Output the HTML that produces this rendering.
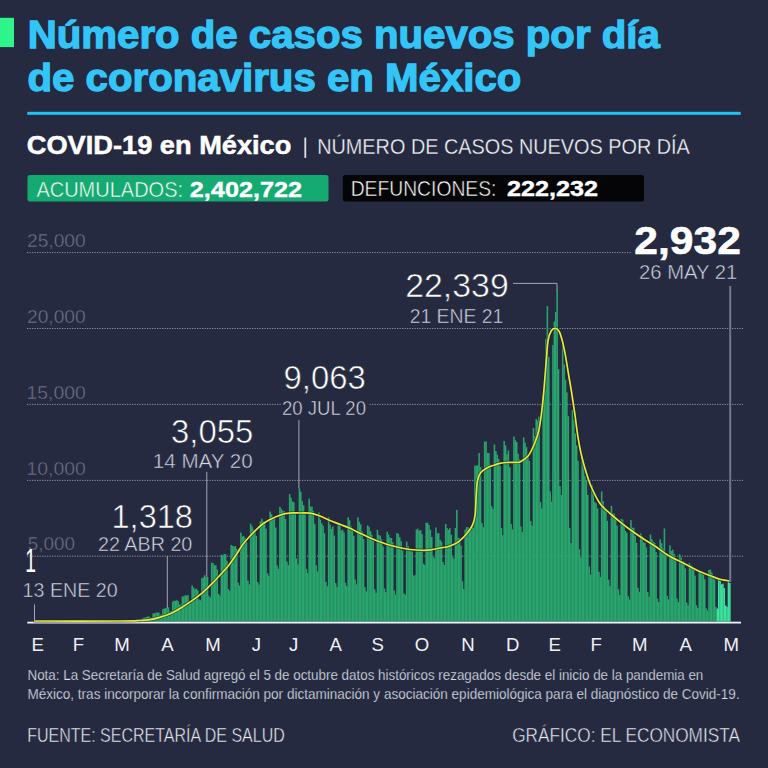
<!DOCTYPE html>
<html><head><meta charset="utf-8">
<style>
html,body{margin:0;padding:0;background:#262a40;}
body{width:768px;height:768px;overflow:hidden;}
svg{display:block;}
.b{font-family:"Liberation Sans",Arial,sans-serif;font-weight:700;}
.l{font-family:"Liberation Sans",Arial,sans-serif;font-weight:400;}
</style></head>
<body>
<svg width="768" height="768" viewBox="0 0 768 768">
<rect x="0" y="0" width="768" height="768" fill="#262a40"/>
<!-- header -->
<rect x="0" y="17.8" width="14" height="29.3" fill="#2ff48a"/>
<text class="b" x="27.81" y="47.60" font-size="39.5" textLength="631.95" lengthAdjust="spacingAndGlyphs" fill="#33c5f8" stroke="#33c5f8" stroke-width="1.3">Número de casos nuevos por día</text>
<text class="b" x="27.52" y="91.30" font-size="39.5" textLength="493.89" lengthAdjust="spacingAndGlyphs" fill="#33c5f8" stroke="#33c5f8" stroke-width="1.3">de coronavirus en México</text>
<text class="b" x="26.78" y="154.40" font-size="25.5" textLength="264.62" lengthAdjust="spacingAndGlyphs" fill="#ffffff" stroke="#ffffff" stroke-width="0.5">COVID-19 en México</text>
<text class="l" x="317.18" y="154.00" font-size="22.1" textLength="372.67" lengthAdjust="spacingAndGlyphs" fill="#f0f1f6" stroke="#262a40" stroke-width="0.3">NÚMERO DE CASOS NUEVOS POR DÍA</text>
<rect x="27.3" y="111.8" width="713.4" height="3" fill="#1ec4f2"/>
<rect x="304.4" y="137.6" width="1.8" height="20.3" fill="#dfe1ea"/>
<rect x="27.5" y="175" width="301" height="26.5" rx="2.5" fill="#14aa72"/>
<rect x="342.8" y="175" width="301.2" height="26.5" rx="2.5" fill="#050507"/>
<text class="l" x="36.40" y="196.60" font-size="21.8" textLength="146.63" lengthAdjust="spacingAndGlyphs" fill="#ffffff" stroke="#14aa72" stroke-width="0.5">ACUMULADOS:</text>
<text class="b" x="189.81" y="196.60" font-size="22.5" textLength="112.28" lengthAdjust="spacingAndGlyphs" fill="#ffffff" stroke="#ffffff" stroke-width="0.4">2,402,722</text>
<text class="l" x="350.70" y="196.20" font-size="21.8" textLength="145.71" lengthAdjust="spacingAndGlyphs" fill="#ffffff" stroke="#050507" stroke-width="0.5">DEFUNCIONES:</text>
<text class="b" x="506.91" y="196.40" font-size="22.5" textLength="91.22" lengthAdjust="spacingAndGlyphs" fill="#ffffff" stroke="#ffffff" stroke-width="0.4">222,232</text>

<!-- gridlines -->
<g stroke="#8d8fa3" stroke-width="1" stroke-dasharray="1.25 1.25" fill="none">
<line x1="27" y1="252.6" x2="632" y2="252.6"/>
<line x1="27" y1="328.5" x2="743" y2="328.5"/>
<line x1="27" y1="404.4" x2="280.7" y2="404.4"/>
<line x1="369.6" y1="404.4" x2="743" y2="404.4"/>
<line x1="27" y1="480.4" x2="743" y2="480.4"/>
<line x1="27" y1="556.2" x2="743" y2="556.2"/>
</g>
<text class="l" x="26.99" y="246.70" font-size="18.9" textLength="58.73" lengthAdjust="spacingAndGlyphs" fill="#6e7189" stroke="#262a40" stroke-width="0.4">25,000</text>
<text class="l" x="26.99" y="322.60" font-size="18.9" textLength="58.73" lengthAdjust="spacingAndGlyphs" fill="#6e7189" stroke="#262a40" stroke-width="0.4">20,000</text>
<text class="l" x="26.46" y="398.50" font-size="18.9" textLength="59.26" lengthAdjust="spacingAndGlyphs" fill="#6e7189" stroke="#262a40" stroke-width="0.4">15,000</text>
<text class="l" x="26.46" y="474.50" font-size="18.9" textLength="59.26" lengthAdjust="spacingAndGlyphs" fill="#6e7189" stroke="#262a40" stroke-width="0.4">10,000</text>
<text class="l" x="27.80" y="550.20" font-size="18.9" textLength="47.30" lengthAdjust="spacingAndGlyphs" fill="#6e7189" stroke="#262a40" stroke-width="0.4">5,000</text>

<!-- bars -->
<g>
<rect x="123.13" y="621.20" width="1.55" height="0.30" fill="#29a66d"/>
<rect x="124.53" y="621.19" width="1.55" height="0.31" fill="#29a66d"/>
<rect x="125.92" y="621.06" width="1.55" height="0.44" fill="#29a66d"/>
<rect x="127.31" y="620.95" width="1.55" height="0.55" fill="#29a66d"/>
<rect x="128.70" y="620.88" width="1.55" height="0.62" fill="#29a66d"/>
<rect x="131.49" y="621.14" width="1.55" height="0.36" fill="#29a66d"/>
<rect x="132.88" y="620.18" width="1.55" height="1.32" fill="#29a66d"/>
<rect x="134.28" y="620.03" width="1.55" height="1.47" fill="#29a66d"/>
<rect x="135.67" y="619.80" width="1.55" height="1.70" fill="#29a66d"/>
<rect x="137.06" y="619.57" width="1.55" height="1.93" fill="#29a66d"/>
<rect x="138.45" y="619.55" width="1.55" height="1.95" fill="#29a66d"/>
<rect x="139.85" y="619.66" width="1.55" height="1.84" fill="#29a66d"/>
<rect x="141.24" y="619.47" width="1.55" height="2.03" fill="#29a66d"/>
<rect x="142.63" y="617.84" width="1.55" height="3.66" fill="#29a66d"/>
<rect x="144.03" y="617.61" width="1.55" height="3.89" fill="#29a66d"/>
<rect x="145.42" y="617.07" width="1.55" height="4.43" fill="#29a66d"/>
<rect x="146.81" y="616.58" width="1.55" height="4.92" fill="#29a66d"/>
<rect x="148.21" y="616.40" width="1.55" height="5.10" fill="#29a66d"/>
<rect x="149.60" y="617.86" width="1.55" height="3.64" fill="#29a66d"/>
<rect x="150.99" y="617.64" width="1.55" height="3.86" fill="#29a66d"/>
<rect x="152.38" y="613.48" width="1.55" height="8.02" fill="#29a66d"/>
<rect x="153.78" y="613.31" width="1.55" height="8.19" fill="#29a66d"/>
<rect x="155.17" y="612.73" width="1.55" height="8.77" fill="#29a66d"/>
<rect x="156.56" y="612.47" width="1.55" height="9.03" fill="#29a66d"/>
<rect x="157.96" y="612.51" width="1.55" height="8.99" fill="#29a66d"/>
<rect x="159.35" y="614.68" width="1.55" height="6.82" fill="#29a66d"/>
<rect x="160.74" y="614.52" width="1.55" height="6.98" fill="#29a66d"/>
<rect x="162.14" y="609.07" width="1.55" height="12.43" fill="#29a66d"/>
<rect x="163.53" y="608.49" width="1.55" height="13.01" fill="#29a66d"/>
<rect x="164.92" y="608.06" width="1.55" height="13.44" fill="#29a66d"/>
<rect x="166.31" y="607.74" width="1.55" height="13.76" fill="#29a66d"/>
<rect x="167.71" y="607.36" width="1.55" height="14.14" fill="#29a66d"/>
<rect x="169.10" y="611.50" width="1.55" height="10.00" fill="#29a66d"/>
<rect x="170.49" y="611.00" width="1.55" height="10.50" fill="#29a66d"/>
<rect x="171.89" y="601.60" width="1.55" height="19.90" fill="#29a66d"/>
<rect x="173.28" y="600.68" width="1.55" height="20.82" fill="#29a66d"/>
<rect x="174.67" y="600.72" width="1.55" height="20.78" fill="#29a66d"/>
<rect x="176.07" y="600.23" width="1.55" height="21.27" fill="#29a66d"/>
<rect x="177.46" y="601.24" width="1.55" height="20.26" fill="#29a66d"/>
<rect x="178.85" y="604.68" width="1.55" height="16.82" fill="#29a66d"/>
<rect x="180.25" y="604.73" width="1.55" height="16.77" fill="#29a66d"/>
<rect x="181.64" y="596.34" width="1.55" height="25.16" fill="#29a66d"/>
<rect x="183.03" y="596.39" width="1.55" height="25.11" fill="#29a66d"/>
<rect x="184.42" y="595.21" width="1.55" height="26.29" fill="#29a66d"/>
<rect x="185.82" y="595.58" width="1.55" height="25.92" fill="#29a66d"/>
<rect x="187.21" y="594.96" width="1.55" height="26.54" fill="#29a66d"/>
<rect x="188.60" y="601.60" width="1.55" height="19.90" fill="#29a66d"/>
<rect x="190.00" y="602.20" width="1.55" height="19.30" fill="#29a66d"/>
<rect x="191.39" y="585.46" width="1.55" height="36.04" fill="#29a66d"/>
<rect x="192.78" y="587.56" width="1.55" height="33.94" fill="#29a66d"/>
<rect x="194.17" y="589.27" width="1.55" height="32.23" fill="#29a66d"/>
<rect x="195.57" y="588.54" width="1.55" height="32.96" fill="#29a66d"/>
<rect x="196.96" y="590.34" width="1.55" height="31.16" fill="#29a66d"/>
<rect x="198.35" y="599.59" width="1.55" height="21.91" fill="#29a66d"/>
<rect x="199.75" y="600.26" width="1.55" height="21.24" fill="#29a66d"/>
<rect x="201.14" y="578.22" width="1.55" height="43.28" fill="#29a66d"/>
<rect x="202.53" y="577.40" width="1.55" height="44.10" fill="#29a66d"/>
<rect x="203.93" y="575.20" width="1.55" height="46.30" fill="#29a66d"/>
<rect x="205.32" y="577.16" width="1.55" height="44.34" fill="#29a66d"/>
<rect x="206.71" y="576.70" width="1.55" height="44.80" fill="#29a66d"/>
<rect x="208.10" y="595.92" width="1.55" height="25.58" fill="#29a66d"/>
<rect x="209.50" y="597.52" width="1.55" height="23.98" fill="#29a66d"/>
<rect x="210.89" y="562.70" width="1.55" height="58.80" fill="#29a66d"/>
<rect x="212.28" y="563.03" width="1.55" height="58.47" fill="#29a66d"/>
<rect x="213.68" y="565.07" width="1.55" height="56.43" fill="#29a66d"/>
<rect x="215.07" y="565.33" width="1.55" height="56.17" fill="#29a66d"/>
<rect x="216.46" y="569.66" width="1.55" height="51.84" fill="#29a66d"/>
<rect x="217.86" y="593.96" width="1.55" height="27.54" fill="#29a66d"/>
<rect x="219.25" y="595.58" width="1.55" height="25.92" fill="#29a66d"/>
<rect x="220.64" y="554.77" width="1.55" height="66.73" fill="#29a66d"/>
<rect x="222.03" y="555.68" width="1.55" height="65.82" fill="#29a66d"/>
<rect x="223.43" y="553.86" width="1.55" height="67.64" fill="#29a66d"/>
<rect x="224.82" y="554.25" width="1.55" height="67.25" fill="#29a66d"/>
<rect x="226.21" y="560.82" width="1.55" height="60.68" fill="#29a66d"/>
<rect x="227.61" y="589.12" width="1.55" height="32.38" fill="#29a66d"/>
<rect x="229.00" y="590.93" width="1.55" height="30.57" fill="#29a66d"/>
<rect x="230.39" y="544.91" width="1.55" height="76.59" fill="#29a66d"/>
<rect x="231.79" y="545.93" width="1.55" height="75.57" fill="#29a66d"/>
<rect x="233.18" y="546.58" width="1.55" height="74.92" fill="#29a66d"/>
<rect x="234.57" y="546.02" width="1.55" height="75.48" fill="#29a66d"/>
<rect x="235.97" y="548.89" width="1.55" height="72.61" fill="#29a66d"/>
<rect x="237.36" y="582.70" width="1.55" height="38.80" fill="#29a66d"/>
<rect x="238.75" y="585.45" width="1.55" height="36.05" fill="#29a66d"/>
<rect x="240.14" y="532.59" width="1.55" height="88.91" fill="#29a66d"/>
<rect x="241.54" y="536.60" width="1.55" height="84.90" fill="#29a66d"/>
<rect x="242.93" y="535.88" width="1.55" height="85.62" fill="#29a66d"/>
<rect x="244.32" y="538.06" width="1.55" height="83.44" fill="#29a66d"/>
<rect x="245.72" y="541.64" width="1.55" height="79.86" fill="#29a66d"/>
<rect x="247.11" y="580.69" width="1.55" height="40.81" fill="#29a66d"/>
<rect x="248.50" y="584.29" width="1.55" height="37.21" fill="#29a66d"/>
<rect x="249.89" y="523.74" width="1.55" height="97.76" fill="#29a66d"/>
<rect x="251.29" y="526.28" width="1.55" height="95.22" fill="#29a66d"/>
<rect x="252.68" y="529.54" width="1.55" height="91.96" fill="#29a66d"/>
<rect x="254.07" y="531.07" width="1.55" height="90.43" fill="#29a66d"/>
<rect x="255.47" y="535.92" width="1.55" height="85.58" fill="#29a66d"/>
<rect x="256.86" y="581.99" width="1.55" height="39.51" fill="#29a66d"/>
<rect x="258.25" y="584.55" width="1.55" height="36.95" fill="#29a66d"/>
<rect x="259.65" y="521.47" width="1.55" height="100.03" fill="#29a66d"/>
<rect x="261.04" y="518.71" width="1.55" height="102.79" fill="#29a66d"/>
<rect x="262.43" y="521.49" width="1.55" height="100.01" fill="#29a66d"/>
<rect x="263.82" y="522.87" width="1.55" height="98.63" fill="#29a66d"/>
<rect x="265.22" y="528.71" width="1.55" height="92.79" fill="#29a66d"/>
<rect x="266.61" y="573.20" width="1.55" height="48.30" fill="#29a66d"/>
<rect x="268.00" y="575.80" width="1.55" height="45.70" fill="#29a66d"/>
<rect x="269.40" y="511.54" width="1.55" height="109.96" fill="#29a66d"/>
<rect x="270.79" y="514.24" width="1.55" height="107.26" fill="#29a66d"/>
<rect x="272.18" y="518.92" width="1.55" height="102.58" fill="#29a66d"/>
<rect x="273.58" y="517.59" width="1.55" height="103.91" fill="#29a66d"/>
<rect x="274.97" y="527.53" width="1.55" height="93.97" fill="#29a66d"/>
<rect x="276.36" y="565.58" width="1.55" height="55.92" fill="#29a66d"/>
<rect x="277.75" y="568.77" width="1.55" height="52.73" fill="#29a66d"/>
<rect x="279.15" y="506.84" width="1.55" height="114.66" fill="#29a66d"/>
<rect x="280.54" y="508.78" width="1.55" height="112.72" fill="#29a66d"/>
<rect x="281.93" y="510.82" width="1.55" height="110.68" fill="#29a66d"/>
<rect x="283.33" y="511.22" width="1.55" height="110.28" fill="#29a66d"/>
<rect x="284.72" y="518.92" width="1.55" height="102.58" fill="#29a66d"/>
<rect x="286.11" y="561.63" width="1.55" height="59.87" fill="#29a66d"/>
<rect x="287.51" y="565.20" width="1.55" height="56.30" fill="#29a66d"/>
<rect x="288.90" y="494.03" width="1.55" height="127.47" fill="#29a66d"/>
<rect x="290.29" y="497.78" width="1.55" height="123.72" fill="#29a66d"/>
<rect x="291.69" y="501.39" width="1.55" height="120.11" fill="#29a66d"/>
<rect x="293.08" y="502.39" width="1.55" height="119.11" fill="#29a66d"/>
<rect x="294.47" y="512.28" width="1.55" height="109.22" fill="#29a66d"/>
<rect x="295.86" y="558.36" width="1.55" height="63.14" fill="#29a66d"/>
<rect x="297.26" y="564.29" width="1.55" height="57.21" fill="#29a66d"/>
<rect x="298.65" y="488.30" width="1.55" height="133.20" fill="#29a66d"/>
<rect x="300.04" y="491.65" width="1.55" height="129.85" fill="#29a66d"/>
<rect x="301.44" y="501.05" width="1.55" height="120.45" fill="#29a66d"/>
<rect x="302.83" y="505.31" width="1.55" height="116.19" fill="#29a66d"/>
<rect x="304.22" y="513.40" width="1.55" height="108.10" fill="#29a66d"/>
<rect x="305.62" y="568.83" width="1.55" height="52.67" fill="#29a66d"/>
<rect x="307.01" y="573.22" width="1.55" height="48.28" fill="#29a66d"/>
<rect x="308.40" y="498.55" width="1.55" height="122.95" fill="#29a66d"/>
<rect x="309.79" y="506.78" width="1.55" height="114.72" fill="#29a66d"/>
<rect x="311.19" y="506.58" width="1.55" height="114.92" fill="#29a66d"/>
<rect x="312.58" y="511.17" width="1.55" height="110.33" fill="#29a66d"/>
<rect x="313.97" y="523.89" width="1.55" height="97.61" fill="#29a66d"/>
<rect x="315.37" y="565.33" width="1.55" height="56.17" fill="#29a66d"/>
<rect x="316.76" y="571.52" width="1.55" height="49.98" fill="#29a66d"/>
<rect x="318.15" y="512.49" width="1.55" height="109.01" fill="#29a66d"/>
<rect x="319.55" y="519.59" width="1.55" height="101.91" fill="#29a66d"/>
<rect x="320.94" y="523.43" width="1.55" height="98.07" fill="#29a66d"/>
<rect x="322.33" y="525.71" width="1.55" height="95.79" fill="#29a66d"/>
<rect x="323.72" y="533.21" width="1.55" height="88.29" fill="#29a66d"/>
<rect x="325.12" y="581.99" width="1.55" height="39.51" fill="#29a66d"/>
<rect x="326.51" y="586.20" width="1.55" height="35.30" fill="#29a66d"/>
<rect x="327.90" y="517.34" width="1.55" height="104.16" fill="#29a66d"/>
<rect x="329.30" y="524.61" width="1.55" height="96.89" fill="#29a66d"/>
<rect x="330.69" y="528.99" width="1.55" height="92.51" fill="#29a66d"/>
<rect x="332.08" y="526.40" width="1.55" height="95.10" fill="#29a66d"/>
<rect x="333.48" y="535.61" width="1.55" height="85.89" fill="#29a66d"/>
<rect x="334.87" y="583.12" width="1.55" height="38.38" fill="#29a66d"/>
<rect x="336.26" y="587.00" width="1.55" height="34.50" fill="#29a66d"/>
<rect x="337.65" y="523.82" width="1.55" height="97.68" fill="#29a66d"/>
<rect x="339.05" y="524.72" width="1.55" height="96.78" fill="#29a66d"/>
<rect x="340.44" y="530.55" width="1.55" height="90.95" fill="#29a66d"/>
<rect x="341.83" y="529.72" width="1.55" height="91.78" fill="#29a66d"/>
<rect x="343.23" y="532.52" width="1.55" height="88.98" fill="#29a66d"/>
<rect x="344.62" y="582.79" width="1.55" height="38.71" fill="#29a66d"/>
<rect x="346.01" y="586.19" width="1.55" height="35.31" fill="#29a66d"/>
<rect x="347.41" y="517.23" width="1.55" height="104.27" fill="#29a66d"/>
<rect x="348.80" y="520.17" width="1.55" height="101.33" fill="#29a66d"/>
<rect x="350.19" y="526.22" width="1.55" height="95.28" fill="#29a66d"/>
<rect x="351.58" y="528.54" width="1.55" height="92.96" fill="#29a66d"/>
<rect x="352.98" y="535.82" width="1.55" height="85.68" fill="#29a66d"/>
<rect x="354.37" y="579.48" width="1.55" height="42.02" fill="#29a66d"/>
<rect x="355.76" y="584.41" width="1.55" height="37.09" fill="#29a66d"/>
<rect x="357.16" y="517.37" width="1.55" height="104.13" fill="#29a66d"/>
<rect x="358.55" y="521.72" width="1.55" height="99.78" fill="#29a66d"/>
<rect x="359.94" y="524.31" width="1.55" height="97.19" fill="#29a66d"/>
<rect x="361.34" y="531.41" width="1.55" height="90.09" fill="#29a66d"/>
<rect x="362.73" y="538.97" width="1.55" height="82.53" fill="#29a66d"/>
<rect x="364.12" y="587.04" width="1.55" height="34.46" fill="#29a66d"/>
<rect x="365.51" y="591.28" width="1.55" height="30.22" fill="#29a66d"/>
<rect x="366.91" y="525.24" width="1.55" height="96.26" fill="#29a66d"/>
<rect x="368.30" y="526.85" width="1.55" height="94.65" fill="#29a66d"/>
<rect x="369.69" y="531.16" width="1.55" height="90.34" fill="#29a66d"/>
<rect x="371.09" y="534.86" width="1.55" height="86.64" fill="#29a66d"/>
<rect x="372.48" y="540.97" width="1.55" height="80.53" fill="#29a66d"/>
<rect x="373.87" y="589.19" width="1.55" height="32.31" fill="#29a66d"/>
<rect x="375.27" y="592.89" width="1.55" height="28.61" fill="#29a66d"/>
<rect x="376.66" y="529.82" width="1.55" height="91.68" fill="#29a66d"/>
<rect x="378.05" y="534.99" width="1.55" height="86.51" fill="#29a66d"/>
<rect x="379.44" y="535.81" width="1.55" height="85.69" fill="#29a66d"/>
<rect x="380.84" y="539.38" width="1.55" height="82.12" fill="#29a66d"/>
<rect x="382.23" y="546.44" width="1.55" height="75.06" fill="#29a66d"/>
<rect x="383.62" y="588.42" width="1.55" height="33.08" fill="#29a66d"/>
<rect x="385.02" y="592.16" width="1.55" height="29.34" fill="#29a66d"/>
<rect x="386.41" y="531.81" width="1.55" height="89.69" fill="#29a66d"/>
<rect x="387.80" y="534.48" width="1.55" height="87.02" fill="#29a66d"/>
<rect x="389.20" y="537.56" width="1.55" height="83.94" fill="#29a66d"/>
<rect x="390.59" y="537.99" width="1.55" height="83.51" fill="#29a66d"/>
<rect x="391.98" y="542.29" width="1.55" height="79.21" fill="#29a66d"/>
<rect x="393.37" y="590.57" width="1.55" height="30.93" fill="#29a66d"/>
<rect x="394.77" y="594.65" width="1.55" height="26.85" fill="#29a66d"/>
<rect x="396.16" y="532.91" width="1.55" height="88.59" fill="#29a66d"/>
<rect x="397.55" y="533.82" width="1.55" height="87.68" fill="#29a66d"/>
<rect x="398.95" y="537.28" width="1.55" height="84.22" fill="#29a66d"/>
<rect x="400.34" y="541.15" width="1.55" height="80.35" fill="#29a66d"/>
<rect x="401.73" y="550.32" width="1.55" height="71.18" fill="#29a66d"/>
<rect x="403.12" y="593.46" width="1.55" height="28.04" fill="#29a66d"/>
<rect x="404.52" y="594.72" width="1.55" height="26.78" fill="#29a66d"/>
<rect x="405.91" y="541.63" width="1.55" height="79.87" fill="#29a66d"/>
<rect x="407.30" y="545.97" width="1.55" height="75.53" fill="#29a66d"/>
<rect x="408.70" y="549.73" width="1.55" height="71.77" fill="#29a66d"/>
<rect x="410.09" y="551.24" width="1.55" height="70.26" fill="#29a66d"/>
<rect x="411.48" y="551.32" width="1.55" height="70.18" fill="#29a66d"/>
<rect x="412.88" y="575.59" width="1.55" height="45.91" fill="#29a66d"/>
<rect x="414.27" y="575.22" width="1.55" height="46.28" fill="#29a66d"/>
<rect x="415.66" y="529.53" width="1.55" height="91.97" fill="#29a66d"/>
<rect x="417.06" y="528.64" width="1.55" height="92.86" fill="#29a66d"/>
<rect x="418.45" y="530.94" width="1.55" height="90.56" fill="#29a66d"/>
<rect x="419.84" y="530.03" width="1.55" height="91.47" fill="#29a66d"/>
<rect x="421.23" y="534.14" width="1.55" height="87.36" fill="#29a66d"/>
<rect x="422.63" y="563.74" width="1.55" height="57.76" fill="#29a66d"/>
<rect x="424.02" y="564.97" width="1.55" height="56.53" fill="#29a66d"/>
<rect x="425.41" y="522.66" width="1.55" height="98.84" fill="#29a66d"/>
<rect x="426.81" y="522.89" width="1.55" height="98.61" fill="#29a66d"/>
<rect x="428.20" y="524.90" width="1.55" height="96.60" fill="#29a66d"/>
<rect x="429.59" y="529.81" width="1.55" height="91.69" fill="#29a66d"/>
<rect x="430.99" y="536.96" width="1.55" height="84.54" fill="#29a66d"/>
<rect x="432.38" y="556.78" width="1.55" height="64.72" fill="#29a66d"/>
<rect x="433.77" y="558.27" width="1.55" height="63.23" fill="#29a66d"/>
<rect x="435.16" y="527.38" width="1.55" height="94.12" fill="#29a66d"/>
<rect x="436.56" y="533.22" width="1.55" height="88.28" fill="#29a66d"/>
<rect x="437.95" y="533.26" width="1.55" height="88.24" fill="#29a66d"/>
<rect x="439.34" y="539.73" width="1.55" height="81.77" fill="#29a66d"/>
<rect x="440.74" y="541.52" width="1.55" height="79.98" fill="#29a66d"/>
<rect x="442.13" y="562.03" width="1.55" height="59.47" fill="#29a66d"/>
<rect x="443.52" y="564.91" width="1.55" height="56.59" fill="#29a66d"/>
<rect x="444.92" y="524.03" width="1.55" height="97.47" fill="#29a66d"/>
<rect x="446.31" y="528.16" width="1.55" height="93.34" fill="#29a66d"/>
<rect x="447.70" y="529.83" width="1.55" height="91.67" fill="#29a66d"/>
<rect x="449.09" y="528.16" width="1.55" height="93.34" fill="#29a66d"/>
<rect x="450.49" y="534.71" width="1.55" height="86.79" fill="#29a66d"/>
<rect x="451.88" y="557.31" width="1.55" height="64.19" fill="#29a66d"/>
<rect x="453.27" y="558.53" width="1.55" height="62.97" fill="#29a66d"/>
<rect x="454.67" y="528.00" width="1.55" height="93.50" fill="#29a66d"/>
<rect x="456.06" y="510.00" width="1.55" height="111.50" fill="#29a66d"/>
<rect x="457.45" y="538.00" width="1.55" height="83.50" fill="#29a66d"/>
<rect x="458.85" y="538.02" width="1.55" height="83.48" fill="#29a66d"/>
<rect x="460.24" y="545.61" width="1.55" height="75.89" fill="#29a66d"/>
<rect x="461.63" y="581.16" width="1.55" height="40.34" fill="#29a66d"/>
<rect x="463.02" y="589.03" width="1.55" height="32.47" fill="#29a66d"/>
<rect x="464.42" y="529.88" width="1.55" height="91.62" fill="#29a66d"/>
<rect x="465.81" y="527.27" width="1.55" height="94.23" fill="#29a66d"/>
<rect x="467.20" y="527.23" width="1.55" height="94.27" fill="#29a66d"/>
<rect x="468.60" y="530.34" width="1.55" height="91.16" fill="#29a66d"/>
<rect x="469.99" y="528.55" width="1.55" height="92.95" fill="#29a66d"/>
<rect x="471.38" y="525.66" width="1.55" height="95.84" fill="#29a66d"/>
<rect x="472.78" y="527.60" width="1.55" height="93.90" fill="#29a66d"/>
<rect x="474.17" y="465.59" width="1.55" height="155.91" fill="#29a66d"/>
<rect x="475.56" y="465.76" width="1.55" height="155.74" fill="#29a66d"/>
<rect x="476.95" y="465.23" width="1.55" height="156.27" fill="#29a66d"/>
<rect x="478.35" y="452.88" width="1.55" height="168.62" fill="#29a66d"/>
<rect x="479.74" y="467.06" width="1.55" height="154.44" fill="#29a66d"/>
<rect x="481.13" y="522.90" width="1.55" height="98.60" fill="#29a66d"/>
<rect x="482.53" y="527.10" width="1.55" height="94.40" fill="#29a66d"/>
<rect x="483.92" y="441.44" width="1.55" height="180.06" fill="#29a66d"/>
<rect x="485.31" y="441.55" width="1.55" height="179.95" fill="#29a66d"/>
<rect x="486.71" y="452.87" width="1.55" height="168.63" fill="#29a66d"/>
<rect x="488.10" y="453.05" width="1.55" height="168.45" fill="#29a66d"/>
<rect x="489.49" y="464.68" width="1.55" height="156.82" fill="#29a66d"/>
<rect x="490.88" y="506.21" width="1.55" height="115.29" fill="#29a66d"/>
<rect x="492.28" y="508.87" width="1.55" height="112.63" fill="#29a66d"/>
<rect x="493.67" y="444.50" width="1.55" height="177.00" fill="#29a66d"/>
<rect x="495.06" y="451.11" width="1.55" height="170.39" fill="#29a66d"/>
<rect x="496.46" y="454.65" width="1.55" height="166.85" fill="#29a66d"/>
<rect x="497.85" y="459.04" width="1.55" height="162.46" fill="#29a66d"/>
<rect x="499.24" y="465.77" width="1.55" height="155.73" fill="#29a66d"/>
<rect x="500.64" y="527.89" width="1.55" height="93.61" fill="#29a66d"/>
<rect x="502.03" y="535.15" width="1.55" height="86.35" fill="#29a66d"/>
<rect x="503.42" y="441.01" width="1.55" height="180.49" fill="#29a66d"/>
<rect x="504.81" y="445.55" width="1.55" height="175.95" fill="#29a66d"/>
<rect x="506.21" y="454.27" width="1.55" height="167.23" fill="#29a66d"/>
<rect x="507.60" y="450.35" width="1.55" height="171.15" fill="#29a66d"/>
<rect x="508.99" y="467.15" width="1.55" height="154.35" fill="#29a66d"/>
<rect x="510.39" y="523.89" width="1.55" height="97.61" fill="#29a66d"/>
<rect x="511.78" y="529.34" width="1.55" height="92.16" fill="#29a66d"/>
<rect x="513.17" y="436.57" width="1.55" height="184.93" fill="#29a66d"/>
<rect x="514.56" y="440.16" width="1.55" height="181.34" fill="#29a66d"/>
<rect x="515.96" y="442.06" width="1.55" height="179.44" fill="#29a66d"/>
<rect x="517.35" y="453.71" width="1.55" height="167.79" fill="#29a66d"/>
<rect x="518.74" y="459.41" width="1.55" height="162.09" fill="#29a66d"/>
<rect x="520.14" y="526.60" width="1.55" height="94.90" fill="#29a66d"/>
<rect x="521.53" y="532.15" width="1.55" height="89.35" fill="#29a66d"/>
<rect x="522.92" y="437.39" width="1.55" height="184.11" fill="#29a66d"/>
<rect x="524.32" y="442.75" width="1.55" height="178.75" fill="#29a66d"/>
<rect x="525.71" y="447.07" width="1.55" height="174.43" fill="#29a66d"/>
<rect x="527.10" y="456.65" width="1.55" height="164.85" fill="#29a66d"/>
<rect x="528.50" y="460.88" width="1.55" height="160.62" fill="#29a66d"/>
<rect x="529.89" y="521.07" width="1.55" height="100.43" fill="#29a66d"/>
<rect x="531.28" y="525.63" width="1.55" height="95.87" fill="#29a66d"/>
<rect x="532.67" y="428.11" width="1.55" height="193.39" fill="#29a66d"/>
<rect x="534.07" y="436.07" width="1.55" height="185.43" fill="#29a66d"/>
<rect x="535.46" y="419.00" width="1.55" height="202.50" fill="#29a66d"/>
<rect x="536.85" y="420.56" width="1.55" height="200.94" fill="#29a66d"/>
<rect x="538.25" y="416.74" width="1.55" height="204.76" fill="#29a66d"/>
<rect x="539.64" y="501.96" width="1.55" height="119.54" fill="#29a66d"/>
<rect x="541.03" y="508.53" width="1.55" height="112.97" fill="#29a66d"/>
<rect x="542.42" y="395.00" width="1.55" height="226.50" fill="#29a66d"/>
<rect x="543.82" y="390.00" width="1.55" height="231.50" fill="#29a66d"/>
<rect x="545.21" y="339.02" width="1.55" height="282.48" fill="#29a66d"/>
<rect x="546.60" y="306.00" width="1.55" height="315.50" fill="#29a66d"/>
<rect x="548.00" y="357.04" width="1.55" height="264.46" fill="#29a66d"/>
<rect x="549.39" y="491.44" width="1.55" height="130.06" fill="#29a66d"/>
<rect x="550.78" y="501.60" width="1.55" height="119.90" fill="#29a66d"/>
<rect x="552.18" y="345.00" width="1.55" height="276.50" fill="#29a66d"/>
<rect x="553.57" y="321.46" width="1.55" height="300.04" fill="#29a66d"/>
<rect x="554.96" y="312.13" width="1.55" height="309.37" fill="#29a66d"/>
<rect x="556.36" y="290.50" width="1.55" height="331.00" fill="#29a66d"/>
<rect x="557.75" y="369.07" width="1.55" height="252.43" fill="#29a66d"/>
<rect x="559.14" y="486.27" width="1.55" height="135.23" fill="#29a66d"/>
<rect x="560.53" y="495.10" width="1.55" height="126.40" fill="#29a66d"/>
<rect x="561.93" y="344.92" width="1.55" height="276.58" fill="#29a66d"/>
<rect x="563.32" y="364.32" width="1.55" height="257.18" fill="#29a66d"/>
<rect x="564.71" y="379.74" width="1.55" height="241.76" fill="#29a66d"/>
<rect x="566.11" y="392.47" width="1.55" height="229.03" fill="#29a66d"/>
<rect x="567.50" y="415.99" width="1.55" height="205.51" fill="#29a66d"/>
<rect x="568.89" y="527.88" width="1.55" height="93.62" fill="#29a66d"/>
<rect x="570.28" y="543.02" width="1.55" height="78.48" fill="#29a66d"/>
<rect x="571.68" y="410.04" width="1.55" height="211.46" fill="#29a66d"/>
<rect x="573.07" y="420.15" width="1.55" height="201.35" fill="#29a66d"/>
<rect x="574.46" y="433.45" width="1.55" height="188.05" fill="#29a66d"/>
<rect x="575.86" y="445.27" width="1.55" height="176.23" fill="#29a66d"/>
<rect x="577.25" y="460.81" width="1.55" height="160.69" fill="#29a66d"/>
<rect x="578.64" y="549.21" width="1.55" height="72.29" fill="#29a66d"/>
<rect x="580.04" y="557.42" width="1.55" height="64.08" fill="#29a66d"/>
<rect x="581.43" y="456.88" width="1.55" height="164.62" fill="#29a66d"/>
<rect x="582.82" y="467.06" width="1.55" height="154.44" fill="#29a66d"/>
<rect x="584.22" y="476.18" width="1.55" height="145.32" fill="#29a66d"/>
<rect x="585.61" y="480.01" width="1.55" height="141.49" fill="#29a66d"/>
<rect x="587.00" y="494.92" width="1.55" height="126.58" fill="#29a66d"/>
<rect x="588.39" y="566.49" width="1.55" height="55.01" fill="#29a66d"/>
<rect x="589.79" y="574.48" width="1.55" height="47.02" fill="#29a66d"/>
<rect x="591.18" y="485.06" width="1.55" height="136.44" fill="#29a66d"/>
<rect x="592.57" y="491.08" width="1.55" height="130.42" fill="#29a66d"/>
<rect x="593.97" y="501.89" width="1.55" height="119.61" fill="#29a66d"/>
<rect x="595.36" y="503.36" width="1.55" height="118.14" fill="#29a66d"/>
<rect x="596.75" y="508.28" width="1.55" height="113.22" fill="#29a66d"/>
<rect x="598.14" y="571.77" width="1.55" height="49.73" fill="#29a66d"/>
<rect x="599.54" y="577.14" width="1.55" height="44.36" fill="#29a66d"/>
<rect x="600.93" y="491.35" width="1.55" height="130.15" fill="#29a66d"/>
<rect x="602.32" y="501.32" width="1.55" height="120.18" fill="#29a66d"/>
<rect x="603.72" y="506.70" width="1.55" height="114.80" fill="#29a66d"/>
<rect x="605.11" y="509.32" width="1.55" height="112.18" fill="#29a66d"/>
<rect x="606.50" y="520.78" width="1.55" height="100.72" fill="#29a66d"/>
<rect x="607.90" y="579.64" width="1.55" height="41.86" fill="#29a66d"/>
<rect x="609.29" y="585.91" width="1.55" height="35.59" fill="#29a66d"/>
<rect x="610.68" y="505.91" width="1.55" height="115.59" fill="#29a66d"/>
<rect x="612.08" y="513.28" width="1.55" height="108.22" fill="#29a66d"/>
<rect x="613.47" y="513.81" width="1.55" height="107.69" fill="#29a66d"/>
<rect x="614.86" y="518.07" width="1.55" height="103.43" fill="#29a66d"/>
<rect x="616.25" y="525.66" width="1.55" height="95.84" fill="#29a66d"/>
<rect x="617.65" y="589.18" width="1.55" height="32.32" fill="#29a66d"/>
<rect x="619.04" y="594.93" width="1.55" height="26.57" fill="#29a66d"/>
<rect x="620.43" y="518.82" width="1.55" height="102.68" fill="#29a66d"/>
<rect x="621.83" y="519.60" width="1.55" height="101.90" fill="#29a66d"/>
<rect x="623.22" y="523.72" width="1.55" height="97.78" fill="#29a66d"/>
<rect x="624.61" y="530.78" width="1.55" height="90.72" fill="#29a66d"/>
<rect x="626.00" y="532.76" width="1.55" height="88.74" fill="#29a66d"/>
<rect x="627.40" y="596.22" width="1.55" height="25.28" fill="#29a66d"/>
<rect x="628.79" y="599.43" width="1.55" height="22.07" fill="#29a66d"/>
<rect x="630.18" y="520.12" width="1.55" height="101.38" fill="#29a66d"/>
<rect x="631.58" y="527.62" width="1.55" height="93.88" fill="#29a66d"/>
<rect x="632.97" y="527.72" width="1.55" height="93.78" fill="#29a66d"/>
<rect x="634.36" y="535.95" width="1.55" height="85.55" fill="#29a66d"/>
<rect x="635.76" y="542.77" width="1.55" height="78.73" fill="#29a66d"/>
<rect x="637.15" y="587.74" width="1.55" height="33.76" fill="#29a66d"/>
<rect x="638.54" y="591.86" width="1.55" height="29.64" fill="#29a66d"/>
<rect x="639.94" y="533.42" width="1.55" height="88.08" fill="#29a66d"/>
<rect x="641.33" y="536.15" width="1.55" height="85.35" fill="#29a66d"/>
<rect x="642.72" y="542.27" width="1.55" height="79.23" fill="#29a66d"/>
<rect x="644.11" y="543.01" width="1.55" height="78.49" fill="#29a66d"/>
<rect x="645.51" y="547.43" width="1.55" height="74.07" fill="#29a66d"/>
<rect x="646.90" y="591.84" width="1.55" height="29.66" fill="#29a66d"/>
<rect x="648.29" y="596.70" width="1.55" height="24.80" fill="#29a66d"/>
<rect x="649.69" y="534.47" width="1.55" height="87.03" fill="#29a66d"/>
<rect x="651.08" y="539.08" width="1.55" height="82.42" fill="#29a66d"/>
<rect x="652.47" y="541.65" width="1.55" height="79.85" fill="#29a66d"/>
<rect x="653.87" y="542.70" width="1.55" height="78.80" fill="#29a66d"/>
<rect x="655.26" y="552.07" width="1.55" height="69.43" fill="#29a66d"/>
<rect x="656.65" y="598.69" width="1.55" height="22.81" fill="#29a66d"/>
<rect x="658.04" y="601.99" width="1.55" height="19.51" fill="#29a66d"/>
<rect x="659.44" y="539.36" width="1.55" height="82.14" fill="#29a66d"/>
<rect x="660.83" y="543.11" width="1.55" height="78.39" fill="#29a66d"/>
<rect x="662.22" y="548.55" width="1.55" height="72.95" fill="#29a66d"/>
<rect x="663.62" y="528.50" width="1.55" height="93.00" fill="#29a66d"/>
<rect x="665.01" y="554.04" width="1.55" height="67.46" fill="#29a66d"/>
<rect x="666.40" y="595.84" width="1.55" height="25.66" fill="#29a66d"/>
<rect x="667.80" y="599.42" width="1.55" height="22.08" fill="#29a66d"/>
<rect x="669.19" y="545.49" width="1.55" height="76.01" fill="#29a66d"/>
<rect x="670.58" y="550.95" width="1.55" height="70.55" fill="#29a66d"/>
<rect x="671.97" y="549.63" width="1.55" height="71.87" fill="#29a66d"/>
<rect x="673.37" y="553.85" width="1.55" height="67.65" fill="#29a66d"/>
<rect x="674.76" y="558.43" width="1.55" height="63.07" fill="#29a66d"/>
<rect x="676.15" y="598.47" width="1.55" height="23.03" fill="#29a66d"/>
<rect x="677.55" y="602.02" width="1.55" height="19.48" fill="#29a66d"/>
<rect x="678.94" y="554.16" width="1.55" height="67.34" fill="#29a66d"/>
<rect x="680.33" y="557.43" width="1.55" height="64.07" fill="#29a66d"/>
<rect x="681.73" y="561.55" width="1.55" height="59.95" fill="#29a66d"/>
<rect x="683.12" y="561.53" width="1.55" height="59.97" fill="#29a66d"/>
<rect x="684.51" y="568.47" width="1.55" height="53.03" fill="#29a66d"/>
<rect x="685.90" y="602.48" width="1.55" height="19.02" fill="#29a66d"/>
<rect x="687.30" y="605.49" width="1.55" height="16.01" fill="#29a66d"/>
<rect x="688.69" y="562.92" width="1.55" height="58.58" fill="#29a66d"/>
<rect x="690.08" y="565.36" width="1.55" height="56.14" fill="#29a66d"/>
<rect x="691.48" y="566.30" width="1.55" height="55.20" fill="#29a66d"/>
<rect x="692.87" y="569.43" width="1.55" height="52.07" fill="#29a66d"/>
<rect x="694.26" y="575.64" width="1.55" height="45.86" fill="#29a66d"/>
<rect x="695.65" y="605.23" width="1.55" height="16.27" fill="#29a66d"/>
<rect x="697.05" y="608.12" width="1.55" height="13.38" fill="#29a66d"/>
<rect x="698.44" y="570.81" width="1.55" height="50.69" fill="#29a66d"/>
<rect x="699.83" y="571.29" width="1.55" height="50.21" fill="#29a66d"/>
<rect x="701.23" y="573.95" width="1.55" height="47.55" fill="#29a66d"/>
<rect x="702.62" y="574.65" width="1.55" height="46.85" fill="#29a66d"/>
<rect x="704.01" y="579.21" width="1.55" height="42.29" fill="#29a66d"/>
<rect x="705.41" y="608.37" width="1.55" height="13.13" fill="#29a66d"/>
<rect x="706.80" y="610.52" width="1.55" height="10.98" fill="#29a66d"/>
<rect x="708.19" y="570.04" width="1.55" height="51.46" fill="#29a66d"/>
<rect x="709.59" y="569.60" width="1.55" height="51.90" fill="#29a66d"/>
<rect x="710.98" y="572.73" width="1.55" height="48.77" fill="#29a66d"/>
<rect x="712.37" y="577.31" width="1.55" height="44.19" fill="#29a66d"/>
<rect x="713.76" y="579.46" width="1.55" height="42.04" fill="#29a66d"/>
<rect x="715.16" y="606.90" width="1.55" height="14.60" fill="#29a66d"/>
<rect x="716.55" y="608.61" width="1.55" height="12.89" fill="#3be39b"/>
<rect x="717.94" y="579.71" width="1.55" height="41.79" fill="#3be39b"/>
<rect x="719.34" y="581.05" width="1.55" height="40.45" fill="#3be39b"/>
<rect x="720.73" y="584.33" width="1.55" height="37.17" fill="#3be39b"/>
<rect x="722.12" y="583.60" width="1.55" height="37.90" fill="#3be39b"/>
<rect x="723.51" y="588.08" width="1.55" height="33.42" fill="#3be39b"/>
<rect x="724.91" y="605.55" width="1.55" height="15.95" fill="#3be39b"/>
<rect x="726.30" y="606.82" width="1.55" height="14.68" fill="#3be39b"/>
<rect x="727.69" y="580.80" width="1.55" height="40.70" fill="#3be39b"/>
<rect x="729.09" y="582.81" width="1.55" height="38.69" fill="#3be39b"/>
</g>
<!-- baseline -->
<rect x="27.3" y="621.7" width="713.7" height="1.8" fill="#f2f3f7"/>
<!-- yellow line -->
<path d="M34.60,621.00 C48.83,621.00 102.43,621.08 120.00,621.00 C137.57,620.92 135.00,620.72 140.00,620.50 C145.00,620.28 146.60,620.27 150.00,619.70 C153.40,619.13 156.93,618.15 160.40,617.10 C163.87,616.05 167.33,614.97 170.80,613.40 C174.28,611.83 177.77,609.78 181.25,607.70 C184.73,605.62 188.24,603.33 191.70,600.90 C195.16,598.47 198.53,596.05 202.00,593.10 C205.47,590.15 209.00,586.75 212.50,583.20 C216.00,579.65 220.25,574.83 223.00,571.80 C225.75,568.77 226.63,568.08 229.00,565.00 C231.37,561.92 234.58,557.13 237.20,553.30 C239.82,549.47 240.40,546.92 244.70,542.00 C249.00,537.08 256.92,528.35 263.00,523.80 C269.08,519.25 276.37,516.52 281.20,514.70 C286.03,512.88 288.87,513.18 292.00,512.90 C295.13,512.62 297.00,512.95 300.00,513.00 C303.00,513.05 306.67,512.70 310.00,513.20 C313.33,513.70 316.67,514.78 320.00,516.00 C323.33,517.22 326.58,519.08 330.00,520.50 C333.42,521.92 337.07,523.15 340.50,524.50 C343.93,525.85 347.23,527.08 350.60,528.60 C353.97,530.12 357.33,532.00 360.70,533.60 C364.07,535.20 367.42,536.75 370.80,538.20 C374.18,539.65 377.47,541.03 381.00,542.30 C384.53,543.57 388.17,544.77 392.00,545.80 C395.83,546.83 400.00,547.80 404.00,548.50 C408.00,549.20 412.00,549.72 416.00,550.00 C420.00,550.28 424.00,550.53 428.00,550.20 C432.00,549.87 436.43,548.66 440.00,548.00 C443.57,547.34 446.27,547.32 449.40,546.25 C452.52,545.18 455.88,543.68 458.75,541.60 C461.62,539.52 464.26,536.62 466.60,533.75 C468.94,530.88 471.37,527.69 472.80,524.40 C474.23,521.11 474.62,518.95 475.20,514.00 C475.77,509.05 475.87,500.27 476.25,494.70 C476.63,489.13 476.77,484.25 477.50,480.60 C478.23,476.95 479.03,474.90 480.60,472.80 C482.17,470.70 484.55,469.30 486.90,468.00 C489.25,466.70 492.52,465.77 494.70,465.00 C496.88,464.23 498.00,463.82 500.00,463.40 C502.00,462.98 504.10,462.68 506.70,462.50 C509.30,462.32 513.38,462.38 515.60,462.30 C517.82,462.22 517.88,463.08 520.00,462.00 C522.12,460.92 525.87,458.92 528.30,455.80 C530.73,452.68 532.86,447.47 534.60,443.30 C536.34,439.13 537.53,436.35 538.75,430.80 C539.97,425.25 541.02,416.97 541.90,410.00 C542.77,403.03 543.32,396.67 544.00,389.00 C544.68,381.33 545.33,372.00 546.00,364.00 C546.67,356.00 547.12,346.53 548.00,341.00 C548.88,335.47 550.02,332.92 551.25,330.80 C552.48,328.68 554.07,328.18 555.40,328.30 C556.73,328.42 558.05,329.42 559.20,331.50 C560.35,333.58 561.27,336.82 562.30,340.80 C563.33,344.78 564.37,349.87 565.40,355.40 C566.43,360.93 567.45,367.73 568.50,374.00 C569.55,380.27 570.65,386.38 571.70,393.00 C572.75,399.62 573.77,406.47 574.80,413.75 C575.83,421.03 576.87,430.11 577.90,436.70 C578.93,443.29 579.95,448.45 581.00,453.30 C582.05,458.15 582.98,461.52 584.20,465.80 C585.42,470.08 587.00,475.22 588.30,479.00 C589.60,482.78 590.26,484.72 592.00,488.50 C593.74,492.28 596.75,498.45 598.75,501.70 C600.75,504.95 602.12,506.03 604.00,508.00 C605.88,509.97 607.33,511.20 610.00,513.50 C612.67,515.80 616.33,518.88 620.00,521.80 C623.67,524.72 628.00,528.10 632.00,531.00 C636.00,533.90 640.00,536.57 644.00,539.20 C648.00,541.83 652.00,544.13 656.00,546.80 C660.00,549.47 663.90,552.70 668.00,555.20 C672.10,557.70 676.82,559.85 680.60,561.80 C684.38,563.75 687.33,565.20 690.70,566.90 C694.07,568.60 697.42,570.48 700.80,572.00 C704.18,573.52 707.63,574.75 711.00,576.00 C714.37,577.25 717.78,578.67 721.00,579.50 C724.22,580.33 728.75,580.75 730.30,581.00" fill="none" stroke="#141824" stroke-opacity="0.5" stroke-width="3.3" stroke-linecap="round"/>
<path d="M34.60,621.00 C48.83,621.00 102.43,621.08 120.00,621.00 C137.57,620.92 135.00,620.72 140.00,620.50 C145.00,620.28 146.60,620.27 150.00,619.70 C153.40,619.13 156.93,618.15 160.40,617.10 C163.87,616.05 167.33,614.97 170.80,613.40 C174.28,611.83 177.77,609.78 181.25,607.70 C184.73,605.62 188.24,603.33 191.70,600.90 C195.16,598.47 198.53,596.05 202.00,593.10 C205.47,590.15 209.00,586.75 212.50,583.20 C216.00,579.65 220.25,574.83 223.00,571.80 C225.75,568.77 226.63,568.08 229.00,565.00 C231.37,561.92 234.58,557.13 237.20,553.30 C239.82,549.47 240.40,546.92 244.70,542.00 C249.00,537.08 256.92,528.35 263.00,523.80 C269.08,519.25 276.37,516.52 281.20,514.70 C286.03,512.88 288.87,513.18 292.00,512.90 C295.13,512.62 297.00,512.95 300.00,513.00 C303.00,513.05 306.67,512.70 310.00,513.20 C313.33,513.70 316.67,514.78 320.00,516.00 C323.33,517.22 326.58,519.08 330.00,520.50 C333.42,521.92 337.07,523.15 340.50,524.50 C343.93,525.85 347.23,527.08 350.60,528.60 C353.97,530.12 357.33,532.00 360.70,533.60 C364.07,535.20 367.42,536.75 370.80,538.20 C374.18,539.65 377.47,541.03 381.00,542.30 C384.53,543.57 388.17,544.77 392.00,545.80 C395.83,546.83 400.00,547.80 404.00,548.50 C408.00,549.20 412.00,549.72 416.00,550.00 C420.00,550.28 424.00,550.53 428.00,550.20 C432.00,549.87 436.43,548.66 440.00,548.00 C443.57,547.34 446.27,547.32 449.40,546.25 C452.52,545.18 455.88,543.68 458.75,541.60 C461.62,539.52 464.26,536.62 466.60,533.75 C468.94,530.88 471.37,527.69 472.80,524.40 C474.23,521.11 474.62,518.95 475.20,514.00 C475.77,509.05 475.87,500.27 476.25,494.70 C476.63,489.13 476.77,484.25 477.50,480.60 C478.23,476.95 479.03,474.90 480.60,472.80 C482.17,470.70 484.55,469.30 486.90,468.00 C489.25,466.70 492.52,465.77 494.70,465.00 C496.88,464.23 498.00,463.82 500.00,463.40 C502.00,462.98 504.10,462.68 506.70,462.50 C509.30,462.32 513.38,462.38 515.60,462.30 C517.82,462.22 517.88,463.08 520.00,462.00 C522.12,460.92 525.87,458.92 528.30,455.80 C530.73,452.68 532.86,447.47 534.60,443.30 C536.34,439.13 537.53,436.35 538.75,430.80 C539.97,425.25 541.02,416.97 541.90,410.00 C542.77,403.03 543.32,396.67 544.00,389.00 C544.68,381.33 545.33,372.00 546.00,364.00 C546.67,356.00 547.12,346.53 548.00,341.00 C548.88,335.47 550.02,332.92 551.25,330.80 C552.48,328.68 554.07,328.18 555.40,328.30 C556.73,328.42 558.05,329.42 559.20,331.50 C560.35,333.58 561.27,336.82 562.30,340.80 C563.33,344.78 564.37,349.87 565.40,355.40 C566.43,360.93 567.45,367.73 568.50,374.00 C569.55,380.27 570.65,386.38 571.70,393.00 C572.75,399.62 573.77,406.47 574.80,413.75 C575.83,421.03 576.87,430.11 577.90,436.70 C578.93,443.29 579.95,448.45 581.00,453.30 C582.05,458.15 582.98,461.52 584.20,465.80 C585.42,470.08 587.00,475.22 588.30,479.00 C589.60,482.78 590.26,484.72 592.00,488.50 C593.74,492.28 596.75,498.45 598.75,501.70 C600.75,504.95 602.12,506.03 604.00,508.00 C605.88,509.97 607.33,511.20 610.00,513.50 C612.67,515.80 616.33,518.88 620.00,521.80 C623.67,524.72 628.00,528.10 632.00,531.00 C636.00,533.90 640.00,536.57 644.00,539.20 C648.00,541.83 652.00,544.13 656.00,546.80 C660.00,549.47 663.90,552.70 668.00,555.20 C672.10,557.70 676.82,559.85 680.60,561.80 C684.38,563.75 687.33,565.20 690.70,566.90 C694.07,568.60 697.42,570.48 700.80,572.00 C704.18,573.52 707.63,574.75 711.00,576.00 C714.37,577.25 717.78,578.67 721.00,579.50 C724.22,580.33 728.75,580.75 730.30,581.00" fill="none" stroke="#e8e836" stroke-width="1.7" stroke-linecap="round"/>

<!-- leader lines -->
<g stroke="#a3a5b8" stroke-width="1" fill="none">
<line x1="34.5" y1="604.4" x2="34.5" y2="621"/>
<line x1="167.3" y1="556" x2="167.3" y2="608"/>
<line x1="206.8" y1="471.8" x2="206.8" y2="576.7"/>
<line x1="298.9" y1="420" x2="298.9" y2="488.3"/>
<polyline points="513,283.4 557,283.4 557,291"/>
<line x1="730.2" y1="286" x2="730.2" y2="582" stroke="#70748f" stroke-width="2"/>
</g>

<!-- annotations -->
<text class="l" x="25.3" y="571.9" font-size="33.5" textLength="10.7" lengthAdjust="spacingAndGlyphs" fill="#ffffff">1</text>
<text class="l" x="111.53" y="527.60" font-size="33" textLength="81.43" lengthAdjust="spacingAndGlyphs" fill="#ffffff" stroke="#262a40" stroke-width="0.6">1,318</text>
<text class="l" x="171.02" y="442.50" font-size="33.5" textLength="82.29" lengthAdjust="spacingAndGlyphs" fill="#ffffff" stroke="#262a40" stroke-width="0.6">3,055</text>
<text class="l" x="283.55" y="389.40" font-size="34" textLength="82.29" lengthAdjust="spacingAndGlyphs" fill="#ffffff" stroke="#262a40" stroke-width="0.6">9,063</text>
<text class="l" x="405.21" y="297.00" font-size="34" textLength="103.58" lengthAdjust="spacingAndGlyphs" fill="#ffffff" stroke="#262a40" stroke-width="0.6">22,339</text>
<text class="b" x="634.38" y="253.50" font-size="39" textLength="106.45" lengthAdjust="spacingAndGlyphs" fill="#ffffff" stroke="#ffffff" stroke-width="0.6">2,932</text>
<text class="l" x="22.60" y="597.30" font-size="21" textLength="95.12" lengthAdjust="spacingAndGlyphs" fill="#d8dae4" stroke="#262a40" stroke-width="0.5">13 ENE 20</text>
<text class="l" x="97.96" y="551.00" font-size="21" textLength="94.40" lengthAdjust="spacingAndGlyphs" fill="#d8dae4" stroke="#262a40" stroke-width="0.5">22 ABR 20</text>
<text class="l" x="152.83" y="468.40" font-size="21" textLength="99.91" lengthAdjust="spacingAndGlyphs" fill="#d8dae4" stroke="#262a40" stroke-width="0.5">14 MAY 20</text>
<text class="l" x="282.02" y="414.50" font-size="21" textLength="83.95" lengthAdjust="spacingAndGlyphs" fill="#d8dae4" stroke="#262a40" stroke-width="0.5">20 JUL 20</text>
<text class="l" x="409.68" y="322.80" font-size="21" textLength="93.71" lengthAdjust="spacingAndGlyphs" fill="#d8dae4" stroke="#262a40" stroke-width="0.5">21 ENE 21</text>
<text class="l" x="639.03" y="278.50" font-size="21" textLength="98.39" lengthAdjust="spacingAndGlyphs" fill="#d8dae4" stroke="#262a40" stroke-width="0.5">26 MAY 21</text>

<!-- x axis months -->
<g class="l" font-size="18.6" fill="#f0f1f5" text-anchor="middle">
<text x="37.8" y="650.7">E</text>
<text x="78.4" y="650.7">F</text>
<text x="121.9" y="650.7">M</text>
<text x="167.5" y="650.7">A</text>
<text x="213" y="650.7">M</text>
<text x="256.5" y="650.7">J</text>
<text x="293.6" y="650.7">J</text>
<text x="335.7" y="650.7">A</text>
<text x="377.7" y="650.7">S</text>
<text x="422" y="650.7">O</text>
<text x="468" y="650.7">N</text>
<text x="512.6" y="650.7">D</text>
<text x="554.7" y="650.7">E</text>
<text x="596.2" y="650.7">F</text>
<text x="639.8" y="650.7">M</text>
<text x="685.8" y="650.7">A</text>
<text x="731.3" y="650.7">M</text>
</g>

<!-- footnote -->
<text class="l" x="27.48" y="680.00" font-size="14.5" textLength="675.85" lengthAdjust="spacingAndGlyphs" fill="#dfe1e9" stroke="#262a40" stroke-width="0.25">Nota: La Secretaría de Salud agregó el 5 de octubre datos históricos rezagados desde el inicio de la pandemia en</text>
<text class="l" x="27.47" y="698.80" font-size="14.5" textLength="712.18" lengthAdjust="spacingAndGlyphs" fill="#dfe1e9" stroke="#262a40" stroke-width="0.25">México, tras incorporar la confirmación por dictaminación y asociación epidemiológica para el diagnóstico de Covid-19.</text>
<text class="l" x="27.20" y="741.50" font-size="21" textLength="257.56" lengthAdjust="spacingAndGlyphs" fill="#f0f1f6" stroke="#262a40" stroke-width="0.5">FUENTE: SECRETARÍA DE SALUD</text>
<text class="l" x="512.18" y="741.50" font-size="21" textLength="227.82" lengthAdjust="spacingAndGlyphs" fill="#f0f1f6" stroke="#262a40" stroke-width="0.5">GRÁFICO: EL ECONOMISTA</text>
</svg>
</body></html>
